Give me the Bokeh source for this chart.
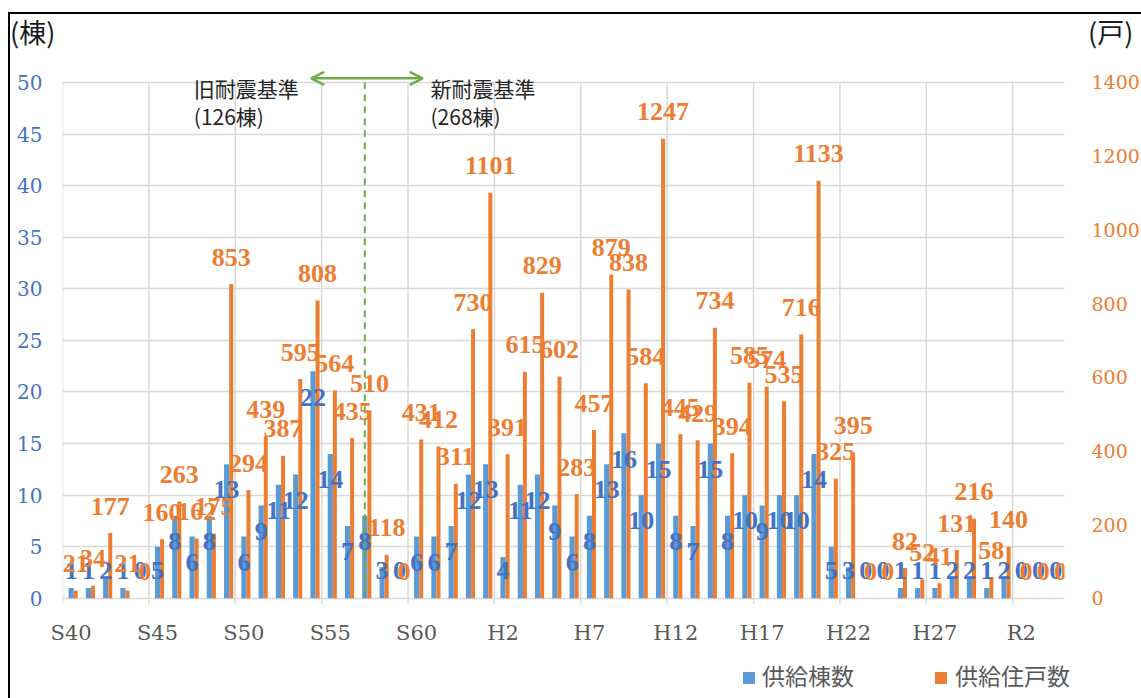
import numpy as np
from bokeh.plotting import figure
from bokeh.layouts import column
from bokeh.models import (Range1d, LinearAxis, FixedTicker, Label, Arrow, OpenHead,
                          ColumnDataSource, Div)
from bokeh.core.properties import value
from bokeh.embed import file_html
from bokeh.resources import INLINE

# ---- data (1965 S40 ... 2022 R4) ----
buildings = [1, 1, 2, 1, 0, 5, 8, 6, 8, 13, 6, 9, 11, 12, 22, 14, 7, 8, 3, 0,
             6, 6, 7, 12, 13, 4, 11, 12, 9, 6, 8, 13, 16, 10, 15, 8, 7, 15, 8, 10,
             9, 10, 10, 14, 5, 3, 0, 0, 1, 1, 1, 2, 2, 1, 2, 0, 0, 0]
households = [21, 34, 177, 21, 0, 160, 263, 162, 175, 853, 294, 439, 387, 595, 808, 564, 435, 510, 118, 0,
              431, 412, 311, 730, 1101, 391, 615, 829, 602, 283, 457, 879, 838, 584, 1247, 445, 429, 734, 394, 585,
              574, 535, 716, 1133, 325, 395, 0, 0, 82, 52, 41, 131, 216, 58, 140, 0, 0, 0]
tick_labels = ["S40", "S45", "S50", "S55", "S60", "H2", "H7", "H12", "H17", "H22", "H27", "R2"]
series_names = ["供給棟数", "供給住戸数"]
units = ["(棟)", "(戸)"]
notes = ["旧耐震基準", "(126棟)", "新耐震基準", "(268棟)"]

BLUE = "#5B9BD5"
ORANGE = "#ED7D31"
GRID = "#D9D9D9"
GREEN = "#70AD47"
W = 1131

n = len(buildings)
x = np.arange(n)
Y_TOP, Y_BOT = 51.55, -0.6
R_MAX = 1400

src = ColumnDataSource(dict(
    x=x, xo=x + 0.265,
    b=buildings, h=households,
    bl=[str(v) for v in buildings], hl=[str(v) for v in households],
    by=[max(v - 2.5, 2.7) for v in buildings],
    hy=[v + 73 for v in households],
))

p = figure(frame_width=1002, frame_height=538, x_range=Range1d(-0.5, n - 0.5),
           y_range=Range1d(Y_BOT, Y_TOP),
           output_backend="svg", toolbar_location=None,
           min_border_left=52, min_border_right=77, min_border_top=2, min_border_bottom=48)
p.margin = (0, 0, 0, 0)
p.extra_y_ranges = {"hh": Range1d(R_MAX * Y_BOT / 50, R_MAX * Y_TOP / 50)}
p.outline_line_color = None
p.xgrid.visible = False
p.ygrid[0].ticker = FixedTicker(ticks=list(range(0, 51, 5)))
p.ygrid[0].grid_line_color = GRID
p.ygrid[0].grid_line_width = 1.5

boundaries = [i - 0.5 for i in range(0, n, 5)]

# vertical grid lines (0..50) with the tick marks below the category axis
p.segment(x0=boundaries, y0=[Y_BOT] * len(boundaries), x1=boundaries, y1=[50] * len(boundaries),
          line_color=GRID, line_width=1.5)

# bars
rb = p.vbar(x="x", top="b", width=0.3, source=src, fill_color=BLUE, line_color=None)
ro = p.vbar(x="xo", top="h", width=0.23, source=src, fill_color=ORANGE, line_color=None,
            y_range_name="hh")

# dashed divider line
p.segment(x0=[17], y0=[0.5], x1=[17], y1=[50], line_color=GREEN, line_width=2, line_dash="7 5")

# data labels
p.text(x="x", y="by", text="bl", source=src, text_align="center", text_baseline="middle",
       text_color="#4472C4", text_font=value("Liberation Serif"), text_font_style="bold",
       text_font_size="26px")
p.text(x="xo", y="hy", text="hl", source=src, text_align="center", text_baseline="middle",
       text_color=ORANGE, text_font=value("Liberation Serif"), text_font_style="bold",
       text_font_size="26px", y_range_name="hh")

# left axis
ly = p.yaxis[0]
ly.ticker = FixedTicker(ticks=list(range(0, 51, 5)))
ly.axis_line_color = None
ly.major_tick_line_color = None
ly.minor_tick_line_color = None
ly.major_label_text_color = "#4472C4"
ly.major_label_text_font = "DejaVu Serif"
ly.major_label_text_font_size = "20px"
ly.major_label_standoff = 14

# right axis
ry = LinearAxis(y_range_name="hh", ticker=FixedTicker(ticks=list(range(0, R_MAX + 1, 200))))
ry.axis_line_color = None
ry.major_tick_line_color = None
ry.minor_tick_line_color = None
ry.major_label_text_color = ORANGE
ry.major_label_text_font = "DejaVu Serif"
ry.major_label_text_font_size = "19px"
ry.major_label_standoff = 21
p.add_layout(ry, "right")

# bottom axis: labels at category centres
label_pos = list(range(0, n, 5))
bx = p.xaxis[0]
bx.ticker = FixedTicker(ticks=label_pos)
bx.major_label_overrides = {k: t for k, t in zip(label_pos, tick_labels)}
bx.axis_line_color = None
bx.major_tick_line_color = None
bx.minor_tick_line_color = None
bx.major_label_text_color = "#595959"
bx.major_label_text_font = "DejaVu Serif"
bx.major_label_text_font_size = "21px"
bx.major_label_standoff = 10

# annotation
p.add_layout(Arrow(x_start=13.9, y_start=50.4, x_end=20.35, y_end=50.4,
                   start=OpenHead(size=13, line_color=GREEN, line_width=2.5),
                   end=OpenHead(size=13, line_color=GREEN, line_width=2.5),
                   line_color=GREEN, line_width=2.5))
for xx, yy, t in [(7.1, 49.45, notes[0]), (7.1, 46.8, notes[1]),
                  (20.8, 49.45, notes[2]), (20.8, 46.8, notes[3])]:
    p.add_layout(Label(x=xx, y=yy, text=t, text_font="Noto Sans CJK JP", text_font_size="21px",
                       text_color="#262626", text_baseline="middle"))

# legend strip
legend_div = Div(text=(
    '<div style="position:relative;width:1131px;height:46px;font-family:\'Noto Sans CJK JP\';'
    'font-size:23px;line-height:23px;color:#595959;">'
    f'<span style="position:absolute;left:733px;top:20px;width:12px;height:12px;background:{BLUE};"></span>'
    f'<span style="position:absolute;left:752px;top:12px;">{series_names[0]}</span>'
    f'<span style="position:absolute;left:925px;top:20px;width:12px;height:12px;background:{ORANGE};"></span>'
    f'<span style="position:absolute;left:945px;top:12px;">{series_names[1]}</span></div>'),
    width=W, height=46)
legend_div.margin = (0, 0, 0, 0)

header = Div(text=(
    '<div style="position:relative;width:1131px;height:50px;font-family:\'Noto Sans CJK JP\';'
    'font-size:27px;line-height:27px;color:#1a1a1a;">'
    f'<span style="position:absolute;left:0px;top:4px;">{units[0]}</span>'
    f'<span style="position:absolute;left:1078px;top:4px;">{units[1]}</span></div>'),
    width=W, height=50)
header.margin = (0, 0, 0, 0)

layout = column(header, p, legend_div, spacing=0)
layout.margin = (12, 0, 0, 8)
layout.styles = {"border-left": "2px solid black", "border-top": "2px solid black"}

open("out.html", "w").write(file_html(layout, INLINE))
